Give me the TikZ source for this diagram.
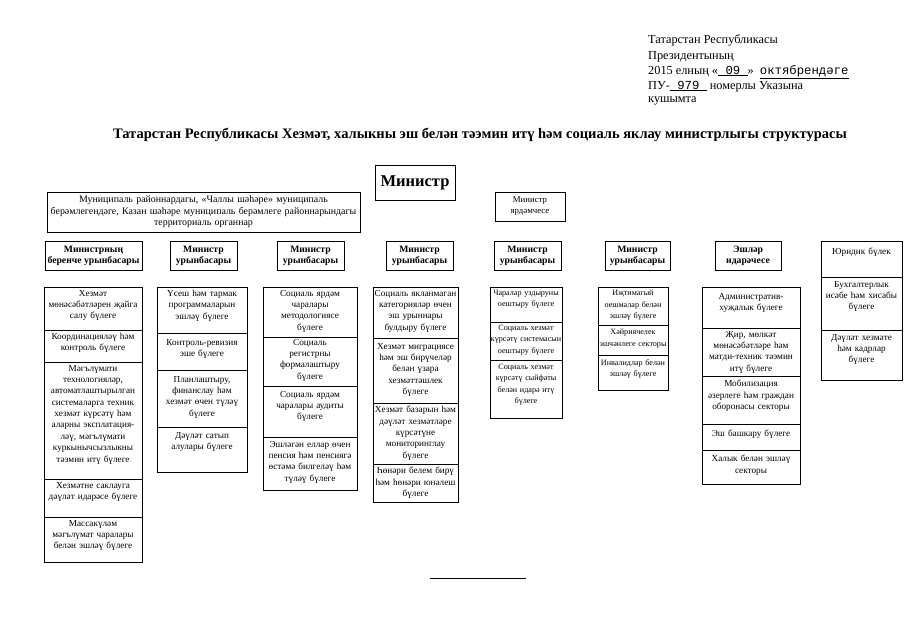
\documentclass[tikz,border=0pt]{standalone}
\usepackage{fontspec}
\setmainfont{Liberation Serif}
\newfontfamily\monof{Liberation Mono}
\tikzset{
  frame/.style={line width=0.8pt},
  box/.style={draw, line width=0.8pt, inner sep=1pt, align=center},
  headbox/.style={box, minimum height=29pt, font=\bfseries\fontsize{9.7}{11.2}\selectfont},
  cell/.style={anchor=north, align=center, inner sep=0pt, font=\fontsize{9.2}{11.35}\selectfont},
  smallcell/.style={cell, font=\fontsize{8.1}{11.35}\selectfont},
  hdr/.style={anchor=base west, inner sep=0pt, font=\fontsize{12.3}{14}\selectfont}
}
\begin{document}
\begin{tikzpicture}[x=1pt,y=-1pt]
\useasboundingbox (0,0) rectangle (905,640);
% header
\node[hdr] (h1) at (648,43) {Татарстан Республикасы};
\node[hdr] (h2) at (648,59) {Президентының};
\node[hdr] (h3) at (648,74) {2015 елның «\underline{\monof\ 09\ }» \ \underline{\monof октябрендәге}};
\node[hdr] (h4) at (648,89) {ПУ-\underline{\monof\ 979\ } номерлы Указына};
\node[hdr] (h5) at (648,102) {кушымта};
% title
\node[anchor=base, inner sep=0pt, font=\bfseries\fontsize{14.5}{16}\selectfont] (title) at (480,138)
  {Татарстан Республикасы Хезмәт, халыкны эш белән тәэмин итү һәм социаль яклау министрлыгы структурасы};
% top
\node[box, minimum width=80pt, minimum height=35pt, font=\bfseries\fontsize{16.5}{20}\selectfont] (min) at (415,182.5) {Министр};
\node[box, minimum width=313pt, minimum height=40pt, text width=309pt, font=\fontsize{9.9}{11.4}\selectfont] (mun) at (203.5,212)
  {Муниципаль районнардагы, «Чаллы шәһәре» муниципаль\\берәмлегендәге, Казан шәһәре муниципаль берәмлеге районнарындагы\\территориаль органнар};
\node[box, minimum width=70pt, minimum height=29pt, font=\fontsize{8.8}{11}\selectfont] (yard) at (530,206.5) {Министр\\ярдәмчесе};
% heads
\node[headbox, minimum width=97pt] (d1) at (93.5,255.5) {Министрның\\беренче урынбасары};
\node[headbox, minimum width=67pt] (d2) at (203.5,255.5) {Министр\\урынбасары};
\node[headbox, minimum width=67pt] (d3) at (310.5,255.5) {Министр\\урынбасары};
\node[headbox, minimum width=67pt] (d4) at (419.5,255.5) {Министр\\урынбасары};
\node[headbox, minimum width=67pt] (d5) at (527.5,255.5) {Министр\\урынбасары};
\node[headbox, minimum width=65pt] (d6) at (637.5,255.5) {Министр\\урынбасары};
\node[headbox, minimum width=66pt] (d7) at (748,255.5) {Эшләр\\идарәчесе};
% column 1
\draw[frame] (44,287) rectangle (142,562);
\draw[frame] (44,330) -- (142,330) (44,362) -- (142,362) (44,479) -- (142,479) (44,517) -- (142,517);
\node[cell, text width=110pt] (c1a) at (93,290) {Хезмәт\\мөнәсәбәтләрен җайга\\салу бүлеге};
\node[cell, text width=110pt] (c1b) at (93,333) {Координацияләү һәм\\контроль бүлеге};
\node[cell, text width=110pt] (c1c) at (93,365) {Мәгълүмати\\технологияләр,\\автоматлаштырылган\\системаларга техник\\хезмәт күрсәтү һәм\\аларны эксплатация-\\ләү, мәгълүмати\\куркынычсызлыкны\\тәэмин итү бүлеге};
\node[cell, text width=110pt] (c1d) at (93,482) {Хезмәтне саклауга\\дәүләт идарәсе бүлеге};
\node[cell, text width=110pt] (c1e) at (93,520) {Массакүләм\\мәгълүмат чаралары\\белән эшләү бүлеге};
% column 2
\draw[frame] (157,287) rectangle (247,472);
\draw[frame] (157,333) -- (247,333) (157,370) -- (247,370) (157,427) -- (247,427);
\node[cell, text width=100pt] (c2a) at (202,290) {Үсеш һәм тармак\\программаларын\\эшләү бүлеге};
\node[cell, text width=100pt] (c2b) at (202,339) {Контроль-ревизия\\эше бүлеге};
\node[cell, text width=100pt] (c2c) at (202,376) {Планлаштыру,\\финанслау һәм\\хезмәт өчен түләү\\бүлеге};
\node[cell, text width=100pt] (c2d) at (202,432) {Дәүләт сатып\\алулары бүлеге};
% column 3
\draw[frame] (263,287) rectangle (357,490);
\draw[frame] (263,337) -- (357,337) (263,386) -- (357,386) (263,437) -- (357,437);
\node[cell, text width=104pt] (c3a) at (310,290) {Социаль ярдәм\\чаралары\\методологиясе\\бүлеге};
\node[cell, text width=104pt] (c3b) at (310,339) {Социаль\\регистрны\\формалаштыру\\бүлеге};
\node[cell, text width=104pt] (c3c) at (310,391) {Социаль ярдәм\\чаралары аудиты\\бүлеге};
\node[cell, text width=104pt] (c3d) at (310,441) {Эшләгән еллар өчен\\пенсия һәм пенсиягә\\өстәмә билгеләү һәм\\түләү бүлеге};
% column 4
\draw[frame] (373,287) rectangle (458,502);
\draw[frame] (373,338) -- (458,338) (373,403) -- (458,403) (373,464) -- (458,464);
\node[cell, text width=95pt] (c4a) at (415.5,290) {Социаль якланмаган\\категорияләр өчен\\эш урыннары\\булдыру бүлеге};
\node[cell, text width=95pt] (c4b) at (415.5,343) {Хезмәт миграциясе\\һәм эш бирүчеләр\\белән үзара\\хезмәттәшлек\\бүлеге};
\node[cell, text width=95pt] (c4c) at (415.5,406) {Хезмәт базарын һәм\\дәүләт хезмәтләре\\күрсәтүне\\мониторинглау\\бүлеге};
\node[cell, text width=95pt] (c4d) at (415.5,467) {Һөнәри белем бирү\\һәм һөнәри юнәлеш\\бүлеге};
% column 5
\draw[frame] (490,287) rectangle (562,418);
\draw[frame] (490,322) -- (562,322) (490,360) -- (562,360);
\node[smallcell, text width=82pt] (c5a) at (526,290) {Чаралар уздыруны\\оештыру бүлеге};
\node[smallcell, text width=82pt] (c5b) at (526,325) {Социаль хезмәт\\күрсәтү системасын\\оештыру бүлеге};
\node[smallcell, text width=82pt] (c5c) at (526,364) {Социаль хезмәт\\күрсәтү сыйфаты\\белән идарә итү\\бүлеге};
% column 6
\draw[frame] (598,287) rectangle (668,390);
\draw[frame] (598,325) -- (668,325) (598,355) -- (668,355);
\node[smallcell, text width=80pt] (c6a) at (633,290) {Иҗтимагый\\оешмалар белән\\эшләү бүлеге};
\node[smallcell, text width=80pt] (c6b) at (633,329) {Хәйриячелек\\эшчәнлеге секторы};
\node[smallcell, text width=80pt] (c6c) at (633,359) {Инвалидлар белән\\эшләү бүлеге};
% column 7
\draw[frame] (702,287) rectangle (800,484);
\draw[frame] (702,328) -- (800,328) (702,376) -- (800,376) (702,424) -- (800,424) (702,450) -- (800,450);
\node[cell, text width=108pt] (c7a) at (751,293) {Административ-\\хуҗалык бүлеге};
\node[cell, text width=108pt] (c7b) at (751,331) {Җир, мөлкәт\\мөнәсәбәтләре һәм\\матди-техник тәэмин\\итү бүлеге};
\node[cell, text width=108pt] (c7c) at (751,380) {Мобилизация\\әзерлеге һәм граждан\\оборонасы секторы};
\node[cell, text width=108pt] (c7d) at (751,430) {Эш башкару бүлеге};
\node[cell, text width=108pt] (c7e) at (751,455) {Халык белән эшләү\\секторы};
% column 8
\draw[frame] (821,241) rectangle (902,380);
\draw[frame] (821,277) -- (902,277) (821,330) -- (902,330);
\node[cell, text width=90pt] (c8a) at (861.5,248) {Юридик бүлек};
\node[cell, text width=90pt] (c8b) at (861.5,281) {Бухгалтерлык\\исәбе һәм хисабы\\бүлеге};
\node[cell, text width=90pt] (c8c) at (861.5,334) {Дәүләт хезмәте\\һәм кадрлар\\бүлеге};
% bottom rule
\coordinate (bl) at (430,578);
\coordinate (br) at (526,578);
\draw[frame] (bl) -- (br);
\end{tikzpicture}
\end{document}
